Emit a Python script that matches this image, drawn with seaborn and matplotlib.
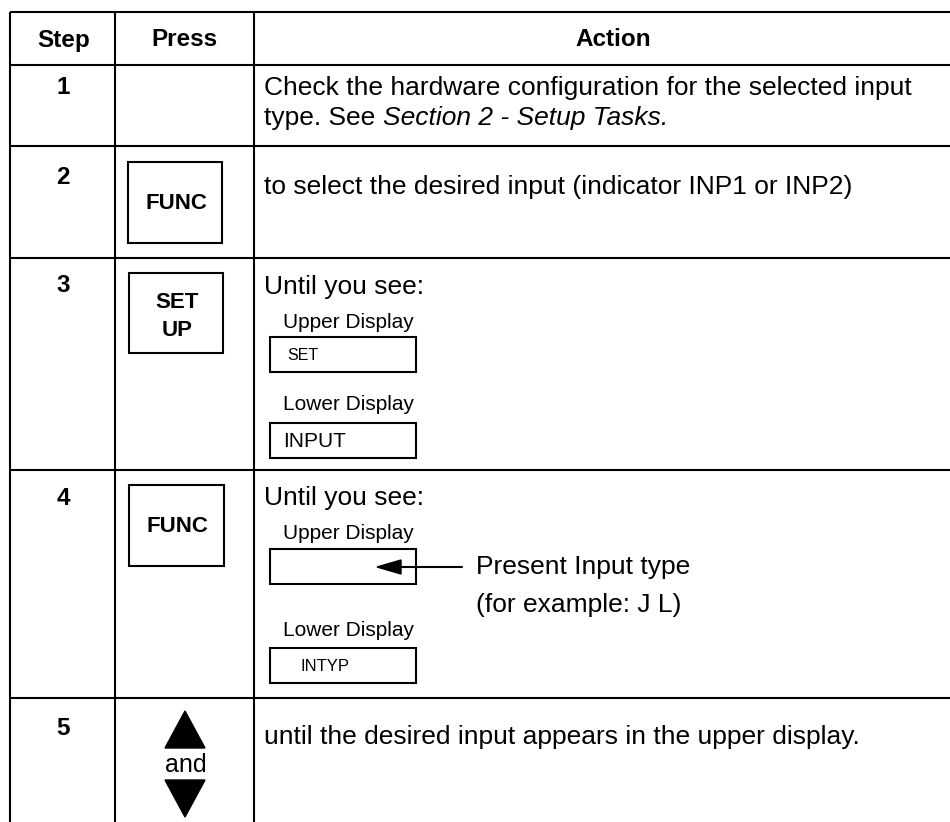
import matplotlib
matplotlib.use("Agg")
import matplotlib.pyplot as plt
from matplotlib.patches import Rectangle, Polygon
import seaborn as sns

# Table content
headers = ["Step", "Press", "Action"]
steps = ["1", "2", "3", "4", "5"]
press_keys = ["", "FUNC", "SET\nUP", "FUNC", ""]
action_lines = [
    ["Check the hardware configuration for the selected input"],
    ["to select the desired input (indicator INP1 or INP2)"],
    ["Until you see:"],
    ["Until you see:"],
    ["until the desired input appears in the upper display."],
]
row1_plain = "type. See "
row1_italic = "Section 2 - Setup Tasks."
display_labels = ["Upper Display", "Lower Display"]
row3_display_values = ["SET", "INPUT"]
row4_display_values = ["", "INTYP"]
arrow_note = ["Present Input type", "(for example: J L)"]
row5_word = "and"

# Layout (pixels, origin top-left)
col_edges = [10, 115, 254, 950]
row_edges = [12, 65, 146, 258, 470, 698]
step_y = [88, 177, 285, 498, 728]
action_y = [88, 187, 287, 498, 737]
key_boxes = [None, (128, 162, 94, 81), (129, 273, 94, 80), (129, 485, 95, 81), None]

sns.set_style("white")
plt.rcParams["font.family"] = ["Liberation Sans", "DejaVu Sans"]
plt.rcParams["text.color"] = "black"

body = 19
fig = plt.figure(figsize=(9.5, 8.22), dpi=100)
ax = fig.add_axes([0, 0, 1, 1])
ax.set_xlim(0, 950)
ax.set_ylim(822, 0)
ax.axis("off")

lw = 1.5
# grid
for y in row_edges:
    ax.plot([col_edges[0], col_edges[-1]], [y, y], color="black", lw=lw,
            solid_capstyle="butt")
for x in col_edges[:-1]:
    ax.plot([x, x], [row_edges[0], 822], color="black", lw=lw,
            solid_capstyle="butt")

# headers
hx = [(col_edges[0] + col_edges[1]) / 2 + 1, (col_edges[1] + col_edges[2]) / 2,
      613]
for h, x in zip(headers, hx):
    ax.text(x, 40, h, ha="center", va="center", fontsize=17.5,
            fontweight="bold")

# step numbers
for s, y in zip(steps, step_y):
    ax.text(63, y, s, ha="center", va="center", fontsize=17.5,
            fontweight="bold")

# press keys
for key, box in zip(press_keys, key_boxes):
    if box is None:
        continue
    x0, y0, w, h = box
    ax.add_patch(Rectangle((x0, y0), w, h, fill=False, ec="black", lw=lw))
    parts = key.split("\n")
    cx = x0 + w / 2 + 1
    if len(parts) == 1:
        ax.text(cx, y0 + h / 2 + 1, parts[0], ha="center", va="center",
                fontsize=16, fontweight="bold")
    else:
        for i, p in enumerate(parts):
            ax.text(cx, y0 + 29 + 28 * i, p, ha="center", va="center",
                    fontsize=16, fontweight="bold")

# action text
for lines, y in zip(action_lines, action_y):
    for i, line in enumerate(lines):
        ax.text(264, y + 29 * i, line, ha="left", va="center", fontsize=body)

t1 = ax.text(264, 118, row1_plain, ha="left", va="center", fontsize=body)
ax.annotate(row1_italic, xy=(1, 0), xycoords=t1, ha="left", va="bottom",
            fontsize=body, style="italic")

# displays in rows 3 and 4
def display_block(label_y, box_y, values, value_x, value_size):
    for lab, ly, by, val, vx, vs in zip(display_labels, label_y, box_y,
                                        values, value_x, value_size):
        ax.text(283, ly, lab, ha="left", va="center", fontsize=15)
        ax.add_patch(Rectangle((270, by), 146, 35, fill=False, ec="black",
                               lw=lw))
        if val:
            ax.text(vx, by + 18, val, ha="left", va="center", fontsize=vs)

display_block([322, 404], [337, 423], row3_display_values, [287, 283],
              [11.5, 15])
display_block([533, 630], [549, 648], row4_display_values, [300, 300],
              [12, 12])

# arrow pointing into the upper display of row 4
ax.plot([398, 462], [567, 567], color="black", lw=lw)
ax.add_patch(Polygon([[377, 567], [401, 560], [401, 574]], closed=True,
                     color="black"))
for i, line in enumerate(arrow_note):
    ax.text(476, 567 + 38 * i, line, ha="left", va="center", fontsize=body)

# up / down keys in row 5
ax.add_patch(Polygon([[185, 711], [165, 748], [205, 748]], closed=True,
                     color="black"))
ax.text(186, 765, row5_word, ha="center", va="center", fontsize=18)
ax.add_patch(Polygon([[165, 780], [205, 780], [185, 817]], closed=True,
                     color="black"))

fig.savefig("out.png", dpi=100)
